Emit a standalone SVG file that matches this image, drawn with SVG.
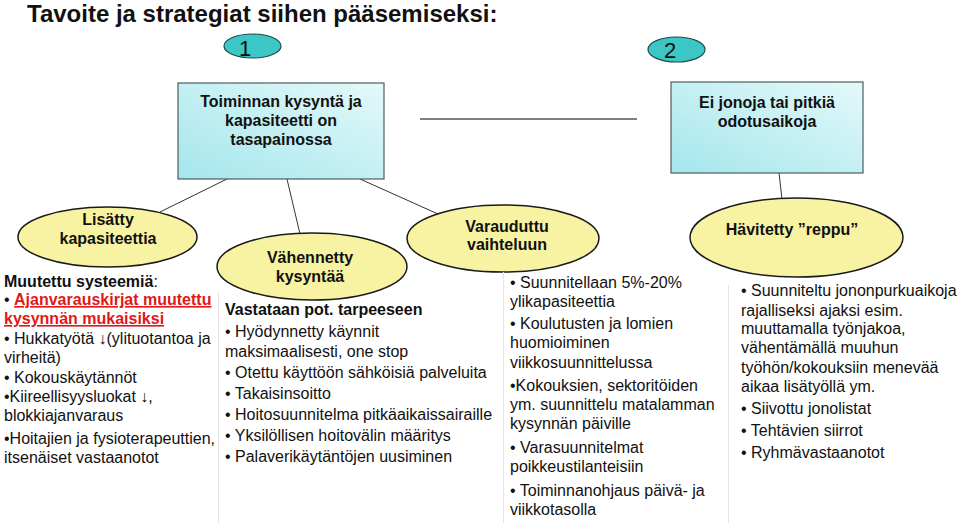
<svg xmlns="http://www.w3.org/2000/svg" width="960" height="523" viewBox="0 0 960 523">
<defs>
<linearGradient id="boxg" x1="1" y1="0" x2="0" y2="1">
<stop offset="0" stop-color="#e4f9fa"/>
<stop offset="1" stop-color="#a4e6ec"/>
</linearGradient>
<style>
text{font-family:"Liberation Sans",Arial,sans-serif;fill:#111}
.title{font-size:24px;font-weight:bold}
.num{font-size:22px;text-anchor:middle}
.bx{font-size:16px;font-weight:bold;text-anchor:middle}
.el{font-size:16px;font-weight:bold;text-anchor:middle}
.body{font-size:16px}
.b{font-weight:bold}
.red{fill:#e01818;font-weight:bold;text-decoration:underline}
.numel{fill:#3cc6c6;stroke:#1e4a4a;stroke-width:1.2}
.box{fill:url(#boxg);stroke:#4c5e60;stroke-width:1.2}
.oval{fill:#f7f3a2;stroke:#1a1a1a;stroke-width:1.5}
.con{stroke:#333;stroke-width:1;fill:none}
.sep{stroke:#e4e4e4;stroke-width:1}
</style>
</defs>
<rect width="960" height="523" fill="#fff"/>
<text class="title" x="27" y="22">Tavoite ja strategiat siihen pääsemiseksi:</text>

<g id="connectors">
<line class="con" x1="227" y1="179" x2="160" y2="212"/>
<line class="con" x1="287" y1="179" x2="300" y2="234"/>
<line class="con" x1="360" y1="179" x2="438" y2="214"/>
<line class="con" x1="779" y1="173" x2="782" y2="199"/>
<line x1="420" y1="119" x2="637" y2="119" stroke="#808080" stroke-width="2.2"/>
</g>

<g id="num1"><ellipse class="numel" cx="252.5" cy="46" rx="28.5" ry="12"/><text class="num" x="245" y="56">1</text></g>
<g id="num2"><ellipse class="numel" cx="676.5" cy="49.5" rx="28.5" ry="12.5"/><text class="num" x="670" y="58">2</text></g>

<g id="box1"><rect class="box" x="178" y="83" width="206" height="96"/>
<text class="bx" x="281" y="107">Toiminnan kysyntä ja</text>
<text class="bx" x="281" y="126">kapasiteetti on</text>
<text class="bx" x="281" y="145">tasapainossa</text></g>

<g id="box2"><rect class="box" x="671" y="82" width="192" height="91"/>
<text class="bx" x="767" y="108">Ei jonoja tai pitkiä</text>
<text class="bx" x="767" y="127">odotusaikoja</text></g>

<g id="lisatty"><ellipse class="oval" cx="107.5" cy="237" rx="89.5" ry="30"/>
<text class="el" x="108" y="225">Lisätty</text>
<text class="el" x="108" y="244">kapasiteettia</text></g>

<g id="vahennetty"><ellipse class="oval" cx="312" cy="266.5" rx="95" ry="33.5"/>
<text class="el" x="310" y="263">Vähennetty</text>
<text class="el" x="310" y="282">kysyntää</text></g>

<g id="varauduttu"><ellipse class="oval" cx="503" cy="238.5" rx="96" ry="33.5"/>
<text class="el" x="507" y="232">Varauduttu</text>
<text class="el" x="507" y="250">vaihteluun</text></g>

<g id="havitetty"><ellipse class="oval" cx="796.5" cy="237.5" rx="106.5" ry="39.5"/>
<text class="el" x="792" y="235">Hävitetty ”reppu”</text></g>

<g id="separators">
<line class="sep" x1="218.5" y1="292" x2="218.5" y2="523"/>
<line class="sep" x1="503.5" y1="272" x2="503.5" y2="523"/>
<line class="sep" x1="728.5" y1="285" x2="728.5" y2="523"/>
</g>

<g id="col1" class="body">
<text x="4" y="287"><tspan class="b">Muutettu systeemiä</tspan>:</text>
<text x="4" y="305">• <tspan class="red">Ajanvarauskirjat muutettu</tspan></text>
<text x="4" y="324" class="red">kysynnän mukaisiksi</text>
<text x="4" y="344">• Hukkatyötä ↓(ylituotantoa ja</text>
<text x="4" y="363">virheitä)</text>
<text x="4" y="383">• Kokouskäytännöt</text>
<text x="4" y="402">•Kiireellisyysluokat ↓,</text>
<text x="4" y="421">blokkiajanvaraus</text>
<text x="4" y="444">•Hoitajien ja fysioterapeuttien,</text>
<text x="4" y="463">itsenäiset vastaanotot</text>
</g>

<g id="col2" class="body">
<text x="225" y="315" class="b">Vastataan pot. tarpeeseen</text>
<text x="225" y="337">• Hyödynnetty käynnit</text>
<text x="225" y="357">maksimaalisesti, one stop</text>
<text x="225" y="378">• Otettu käyttöön sähköisiä palveluita</text>
<text x="225" y="399">• Takaisinsoitto</text>
<text x="225" y="420">• Hoitosuunnitelma pitkäaikaissairaille</text>
<text x="225" y="441">• Yksilöllisen hoitovälin määritys</text>
<text x="225" y="462">• Palaverikäytäntöjen uusiminen</text>
</g>

<g id="col3" class="body">
<text x="510" y="288">• Suunnitellaan 5%-20%</text>
<text x="510" y="307">ylikapasiteettia</text>
<text x="510" y="329">• Koulutusten ja lomien</text>
<text x="510" y="348">huomioiminen</text>
<text x="510" y="368">viikkosuunnittelussa</text>
<text x="510" y="391">•Kokouksien, sektoritöiden</text>
<text x="510" y="410">ym. suunnittelu matalamman</text>
<text x="510" y="429">kysynnän päiville</text>
<text x="510" y="453">• Varasuunnitelmat</text>
<text x="510" y="472">poikkeustilanteisiin</text>
<text x="510" y="496">• Toiminnanohjaus päivä- ja</text>
<text x="510" y="515">viikkotasolla</text>
</g>

<g id="col4" class="body">
<text x="741" y="296">• Suunniteltu jononpurkuaikoja</text>
<text x="741" y="316">rajalliseksi ajaksi esim.</text>
<text x="741" y="334">muuttamalla työnjakoa,</text>
<text x="741" y="353">vähentämällä muuhun</text>
<text x="741" y="373">työhön/kokouksiin menevää</text>
<text x="741" y="392">aikaa lisätyöllä ym.</text>
<text x="741" y="414">• Siivottu jonolistat</text>
<text x="741" y="436">• Tehtävien siirrot</text>
<text x="741" y="458">• Ryhmävastaanotot</text>
</g>
</svg>
